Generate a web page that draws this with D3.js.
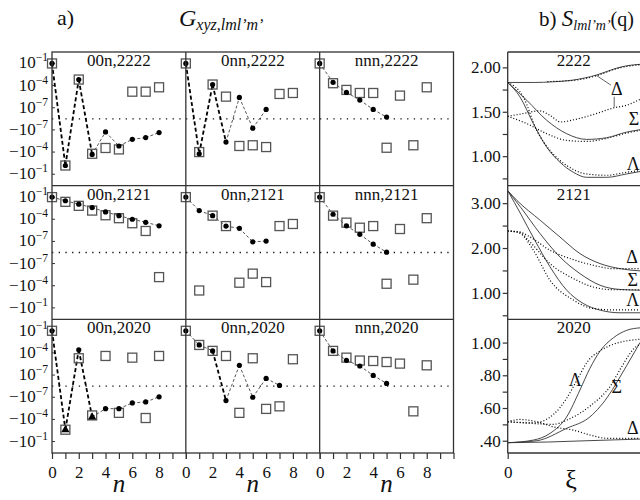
<!DOCTYPE html>
<html>
<head>
<meta charset="utf-8">
<script src="https://cdn.jsdelivr.net/npm/d3@7"></script>
<style>
  body { margin: 0; background: #fff; }
</style>
</head>
<body>
<script>
// n = 0..8 for every panel of a)
const nValues = [0, 1, 2, 3, 4, 5, 6, 7, 8];
const colLabels = ["00n", "0nn", "nnn"];
const rowLabels = ["2222", "2121", "2020"];

// filled dots (joined by dashed line), one array per column
const dots2222 = [
  [1e-1, -6.6e-3, 6.6e-4, -2.1e-4, -1.9e-7, -1.5e-5, -1.9e-6, -1.1e-6, -2.3e-7],
  [1e-1, -1.7e-4, 1.4e-4, -4.4e-6, 2.5e-6, -5.9e-8, 5.9e-8, null, null],
  [1e-1, 2.8e-4, 1.2e-5, 1.1e-6, 5.9e-8, 5.4e-9, null, null, null]
];
const squares2222 = [
  [1e-1, -6.6e-3, 6.6e-4, -1.7e-4, -2.8e-5, -4.4e-5, 1.5e-5, 1.5e-5, 5.9e-5],
  [1e-1, -1e-4, 1.4e-4, 3.2e-6, -1.5e-5, -1.2e-5, -2.1e-5, 7.4e-6, 1e-5],
  [1e-1, 2.1e-4, 2.6e-5, 1e-5, 1e-5, -2.6e-5, 4.4e-6, -1.2e-5, 5.9e-5]
];
const dots2121 = [
  [1e-1, 3.2e-2, 1.1e-2, 3.8e-3, 1e-3, 3.1e-4, 1e-4, 3.9e-5, 1.3e-5],
  [1e-1, 1.5e-3, 3.1e-4, 1.2e-5, 5.9e-6, 8.9e-8, 1.1e-7, null, null],
  [1e-1, 4.8e-4, 1.3e-5, 9.1e-7, 4.3e-8, 3.5e-9, null, null, null]
];
const squares2121 = [
  [1e-1, 2.3e-2, 6.6e-3, 1.5e-3, 3.5e-4, 1.4e-4, 2.9e-5, 2.6e-6, -6.8e-6],
  [1e-1, -4.4e-4, 3.1e-4, 1.2e-5, -3.9e-5, -2.3e-6, -3.2e-5, 1.2e-5, 2.3e-5],
  [1e-1, 3.1e-4, 3.5e-5, 7.2e-6, 1.2e-5, -5.4e-5, 4.8e-6, -1.5e-5, 1.4e-4]
];
const dots2020 = [
  [1e-1, -2.5e-3, 2.6e-4, -4.8e-5, -3.5e-6, -3.5e-6, -5.9e-7, -4.3e-7, -8.9e-8],
  [1e-1, 1.2e-3, 1.9e-4, -2.8e-7, 2.1e-6, -1e-7, 3.5e-8, 4e-9, null],
  [1e-1, 1.9e-4, 1e-5, 1.7e-6, 9.1e-8, 7.4e-9, null, null, null]
];
const squares2020 = [
  [1e-1, -2.5e-3, 1.9e-5, -2.9e-5, 3.9e-5, -1.3e-5, 2.3e-5, -6.5e-5, 3.9e-5],
  [1e-1, 1.2e-3, 1.9e-4, 3.9e-5, -1.3e-5, 1.9e-5, -3.8e-6, -1.7e-6, 1.4e-5],
  [1e-1, 1.9e-4, 2.3e-5, 9.3e-6, 8.1e-6, 5.9e-6, 3.6e-6, -8.1e-6, 2.1e-6]
];
// triangles drawn instead of dots (00n,2020 only)
const triangles2020 = [null, -2.5e-3, null, -4.8e-5, null, null, null, null, null];

// which segments (start index) are drawn with the heavy dash
const heavySegs = [
  [[0, 1, 2], [0, 1, 2], []],
  [[], [], []],
  [[0, 1, 2], [2], []]
];

const yTickVals = [1e-1, 1e-4, 1e-7, -1e-7, -1e-4, -1e-1];
const xTickVals = [0, 1, 2, 3, 4, 5, 6, 7, 8, 9, 10];

// b) S curves, [xi, value]
const s2222 = {
  solid: [
    [[0, 1.83], [0.2, 1.83], [0.34, 1.837], [0.49, 1.856], [0.67, 1.913], [0.82, 1.989], [0.9, 2.018], [1.0, 2.034]],
    [[0, 1.83], [0.144, 1.63], [0.295, 1.404], [0.446, 1.253], [0.597, 1.189], [0.748, 1.208], [0.899, 1.271], [1.0, 1.298]],
    [[0, 1.83], [0.093, 1.667], [0.194, 1.367], [0.295, 1.102], [0.395, 0.932], [0.496, 0.819], [0.597, 0.762], [0.748, 0.762], [0.899, 0.8], [1.0, 0.827]]
  ],
  dotted: [
    [[0.3, 1.84], [0.49, 1.852], [0.67, 1.905], [0.82, 1.985], [1.0, 2.03]],
    [[0, 1.449], [0.1, 1.475], [0.24, 1.51], [0.32, 1.46], [0.4, 1.385], [0.5, 1.41], [0.65, 1.47], [0.8, 1.543], [0.9, 1.574], [1.0, 1.64]],
    [[0, 1.449], [0.144, 1.367], [0.295, 1.253], [0.446, 1.178], [0.597, 1.166], [0.748, 1.2], [0.899, 1.26], [1.0, 1.29]],
    [[0, 1.83], [0.118, 1.667], [0.219, 1.29], [0.32, 1.064], [0.446, 0.895], [0.597, 0.8], [0.748, 0.785], [0.899, 0.819], [1.0, 0.838]]
  ],
  labels: [["Δ", 0.824, 1.74], ["Σ", 0.955, 1.40], ["Λ", 0.95, 0.895]]
};
const s2121 = {
  solid: [
    [[0, 3.28], [0.07, 3.06], [0.245, 2.62], [0.395, 2.245], [0.546, 1.876], [0.698, 1.653], [0.849, 1.54], [1.0, 1.49]],
    [[0, 3.28], [0.1, 2.9], [0.245, 2.32], [0.395, 1.8], [0.546, 1.43], [0.698, 1.17], [0.849, 1.076], [1.0, 1.06]],
    [[0, 3.28], [0.1, 2.75], [0.2, 2.2], [0.32, 1.58], [0.446, 1.06], [0.57, 0.765], [0.698, 0.616], [0.849, 0.556], [1.0, 0.556]]
  ],
  dotted: [
    [[0, 2.38], [0.09, 2.36], [0.17, 2.245], [0.32, 1.95], [0.496, 1.74], [0.647, 1.615], [0.798, 1.54], [1.0, 1.54]],
    [[0, 2.38], [0.09, 2.35], [0.17, 2.13], [0.32, 1.65], [0.496, 1.32], [0.647, 1.13], [0.798, 1.07], [1.0, 1.07]],
    [[0, 2.38], [0.09, 2.33], [0.194, 1.95], [0.32, 1.28], [0.496, 0.84], [0.647, 0.65], [0.798, 0.62], [1.0, 0.62]]
  ],
  labels: [["Δ", 0.94, 1.76], ["Σ", 0.945, 1.24], ["Λ", 0.945, 0.8]]
};
const s2020 = {
  solid: [
    [[0, 0.388], [0.3, 0.392], [0.6, 0.4], [1.0, 0.41]],
    [[0, 0.388], [0.22, 0.4], [0.446, 0.476], [0.622, 0.546], [0.773, 0.689], [0.849, 0.79], [0.95, 0.93], [1.0, 1.0]],
    [[0, 0.388], [0.194, 0.404], [0.32, 0.445], [0.446, 0.546], [0.546, 0.71], [0.62, 0.84], [0.7, 0.95], [0.8, 1.03], [0.9, 1.075], [1.0, 1.09]]
  ],
  dotted: [
    [[0, 0.516], [0.093, 0.53], [0.219, 0.516], [0.345, 0.485], [0.496, 0.465], [0.622, 0.435], [0.748, 0.415], [1.0, 0.415]],
    [[0, 0.516], [0.2, 0.51], [0.345, 0.56], [0.446, 0.66], [0.53, 0.78], [0.6, 0.88], [0.7, 0.95], [0.8, 0.99], [1.0, 1.02]],
    [[0, 0.516], [0.2, 0.505], [0.345, 0.5], [0.446, 0.526], [0.647, 0.628], [0.773, 0.73], [0.86, 0.85], [0.95, 0.96], [1.0, 0.99]]
  ],
  labels: [["Λ", 0.51, 0.76], ["Σ", 0.825, 0.72], ["Δ", 0.945, 0.465]]
};
const sDomains = [[0.668, 2.173], [0.41, 3.39], [0.325, 1.142]];
const sTicks = [[0.75, 1.0, 1.25, 1.5, 1.75, 2.0], [0.5, 1.0, 1.5, 2.0, 2.5, 3.0], [0.4, 0.5, 0.6, 0.7, 0.8, 0.9, 1.0]];
const sLabelTicks = [[1.0, 1.5, 2.0], [1.0, 2.0, 3.0], [0.4, 0.6, 0.8, 1.0]];

const width = 640, height = 500;
const aL = 52, aR = 453.5, pTop = 52, pBottom = 453;
const colW = (aR - aL) / 3, rowH = (pBottom - pTop) / 3;
const bL = 507.7, bR = 640;
const serif = "'Liberation Serif', 'Times New Roman', 'DejaVu Serif', serif";

const svg = d3.select("body").append("svg")
  .attr("width", width).attr("height", height)
  .attr("font-family", serif).attr("fill", "#111");

// symmetric log used by a)
const tr = v => Math.sign(v) * Math.max(Math.log10(Math.abs(v)) + 8.5, 0);

const dotsRows = [dots2222, dots2121, dots2020];
const squaresRows = [squares2222, squares2121, squares2020];

const xScales = [0, 1, 2].map(c => d3.scaleLinear().domain([0, 10]).range([aL + c * colW, aL + (c + 1) * colW]));
const yScales = [0, 1, 2].map(r => d3.scaleLinear().domain([-9.05, 9.05]).range([pTop + (r + 1) * rowH, pTop + r * rowH]));

function supLabel(g, x, y, base, exp, size) {
  const t = g.append("text").attr("x", x).attr("y", y).attr("text-anchor", "end")
    .attr("font-size", size).attr("dominant-baseline", "middle");
  t.append("tspan").text(base);
  t.append("tspan").attr("dy", -6).attr("font-size", size * 0.68).text(exp);
}

// ---- a) panels
for (let r = 0; r < 3; r++) {
  const y = yScales[r];
  // zero line
  svg.append("line")
    .attr("x1", aL).attr("x2", aR).attr("y1", y(0)).attr("y2", y(0))
    .attr("stroke", "#111").attr("stroke-width", 1.3).attr("stroke-dasharray", "1.3 5.4");

  // left tick labels
  yTickVals.forEach(v => {
    const e = Math.round(Math.log10(Math.abs(v)));
    supLabel(svg, 48, y(tr(v)) + 1, v < 0 ? "−10" : "10", "−" + Math.abs(e), 17);
    svg.append("line").attr("x1", aL).attr("x2", aL + 3)
      .attr("y1", y(tr(v))).attr("y2", y(tr(v))).attr("stroke", "#333");
  });

  for (let c = 0; c < 3; c++) {
    const x = xScales[c];
    const dots = dotsRows[r][c];
    const sq = squaresRows[r][c];
    const g = svg.append("g");

    g.append("text").attr("x", (x(0) + x(10)) / 2).attr("y", pTop + r * rowH + 14)
      .attr("text-anchor", "middle").attr("font-size", 17)
      .text(colLabels[c] + "," + rowLabels[r]);

    // dashed connections
    for (let i = 0; i < dots.length - 1; i++) {
      if (dots[i] === null || dots[i + 1] === null) continue;
      const heavy = heavySegs[r][c].includes(i);
      g.append("line")
        .attr("x1", x(nValues[i])).attr("y1", y(tr(dots[i])))
        .attr("x2", x(nValues[i + 1])).attr("y2", y(tr(dots[i + 1])))
        .attr("stroke", heavy ? "#000" : "#444")
        .attr("stroke-width", heavy ? 1.8 : 0.9)
        .attr("stroke-dasharray", heavy ? "4 2.5" : "3 2");
    }

    // squares
    g.selectAll("rect").data(sq.map((v, i) => [nValues[i], v]).filter(d => d[1] !== null))
      .enter().append("rect")
      .attr("x", d => x(d[0]) - 4.5).attr("y", d => y(tr(d[1])) - 4.5)
      .attr("width", 9).attr("height", 9)
      .attr("fill", "none").attr("stroke", "#555").attr("stroke-width", 1.3);

    const tri = (r === 2 && c === 0) ? triangles2020 : nValues.map(() => null);

    g.selectAll("circle").data(dots.map((v, i) => [nValues[i], v, tri[i]]).filter(d => d[1] !== null && d[2] === null))
      .enter().append("circle")
      .attr("cx", d => x(d[0])).attr("cy", d => y(tr(d[1]))).attr("r", 2.6)
      .attr("fill", "#000");

    g.selectAll("path.tri").data(tri.map((v, i) => [nValues[i], v]).filter(d => d[1] !== null))
      .enter().append("path").attr("class", "tri")
      .attr("d", d3.symbol(d3.symbolTriangle, 30))
      .attr("transform", d => `translate(${x(d[0])},${y(tr(d[1]))})`)
      .attr("fill", "#000");
  }
}

function styleAxis(g) {
  g.attr("font-family", serif);
  g.select(".domain").remove();
  g.selectAll("line").attr("stroke", "#333").attr("stroke-width", 1.2);
  g.selectAll("text").attr("font-family", serif).attr("font-size", 17).attr("fill", "#111");
}

// x axes of a)
for (let c = 0; c < 3; c++) {
  const ax = d3.axisBottom(xScales[c]).tickValues(xTickVals).tickSize(6)
    .tickFormat(d => (d % 2 === 0 && d <= 8) ? d : "");
  const g = svg.append("g").attr("transform", `translate(0,${pBottom})`).call(ax);
  styleAxis(g);
  g.selectAll("text").attr("dy", "0.95em");
  svg.append("text").attr("x", (xScales[c](0) + xScales[c](10)) / 2).attr("y", 492)
    .attr("text-anchor", "middle").attr("font-size", 25).attr("font-style", "italic").text("n");
}

// frame of a)
const frame = svg.append("g").attr("fill", "none").attr("stroke", "#333").attr("stroke-width", 1.3);
frame.append("rect").attr("x", aL).attr("y", pTop).attr("width", aR - aL).attr("height", pBottom - pTop);
[1, 2].forEach(i => {
  frame.append("line").attr("x1", aL + i * colW).attr("x2", aL + i * colW).attr("y1", pTop).attr("y2", pBottom);
  frame.append("line").attr("x1", aL).attr("x2", aR).attr("y1", pTop + i * rowH).attr("y2", pTop + i * rowH);
});

// ---- b) panels
const xb = d3.scaleLinear().domain([0, 1]).range([bL, bR]);
const sData = [s2222, s2121, s2020];
svg.append("defs").selectAll("clipPath").data([0, 1, 2]).enter().append("clipPath")
  .attr("id", d => "clip" + d)
  .append("rect").attr("x", bL).attr("y", d => pTop + d * rowH).attr("width", bR - bL).attr("height", rowH);

for (let r = 0; r < 3; r++) {
  const yb = d3.scaleLinear().domain(sDomains[r]).range([pTop + (r + 1) * rowH, pTop + r * rowH]);
  const line = d3.line().x(d => xb(d[0])).y(d => yb(d[1])).curve(d3.curveMonotoneX);
  const g = svg.append("g").attr("clip-path", `url(#clip${r})`);
  sData[r].solid.forEach(c => g.append("path").attr("d", line(c))
    .attr("fill", "none").attr("stroke", "#333").attr("stroke-width", 0.9));
  sData[r].dotted.forEach(c => g.append("path").attr("d", line(c))
    .attr("fill", "none").attr("stroke", "#000").attr("stroke-width", 1.2).attr("stroke-dasharray", "1 2"));

  sData[r].labels.forEach(l => svg.append("text").attr("x", xb(l[1])).attr("y", yb(l[2]))
    .attr("text-anchor", "middle").attr("dominant-baseline", "middle").attr("font-size", 18).text(l[0]));

  const fmt = r === 2 ? (d => d === 1 ? "1.00" : d3.format(".2f")(d).replace(/^0/, "")) : d3.format(".2f");
  const ax = d3.axisLeft(yb).tickValues(sTicks[r]).tickSize(5)
    .tickFormat(d => sLabelTicks[r].some(v => Math.abs(v - d) < 1e-9) ? fmt(d) : "");
  const ga = svg.append("g").attr("transform", `translate(${bL},0)`).call(ax);
  styleAxis(ga);
  ga.selectAll("text").attr("x", -7);

  svg.append("text").attr("x", xb(0.5)).attr("y", pTop + r * rowH + 14)
    .attr("text-anchor", "middle").attr("font-size", 17).text(rowLabels[r]);
}

// Δ pointer lines in 2222
{
  const yb = d3.scaleLinear().domain(sDomains[0]).range([pTop + rowH, pTop]);
  const pl = svg.append("g").attr("stroke", "#555").attr("stroke-width", 0.9);
  pl.append("line").attr("x1", xb(0.67)).attr("y1", yb(1.91)).attr("x2", xb(0.78)).attr("y2", yb(1.80));
  pl.append("line").attr("x1", xb(0.805)).attr("y1", yb(1.67)).attr("x2", xb(0.805)).attr("y2", yb(1.55));
}

const bf = svg.append("g").attr("fill", "none").attr("stroke", "#333").attr("stroke-width", 1.3);
bf.append("line").attr("x1", bL).attr("x2", bL).attr("y1", pTop).attr("y2", pBottom);
[0, 1, 2, 3].forEach(i => bf.append("line").attr("x1", bL).attr("x2", bR).attr("y1", pTop + i * rowH).attr("y2", pTop + i * rowH));

const axb = d3.axisBottom(xb).tickValues([0]).tickSize(6).tickFormat(d3.format("d"));
const gxb = svg.append("g").attr("transform", `translate(0,${pBottom})`).call(axb);
styleAxis(gxb);
gxb.selectAll("text").attr("dy", "0.95em");
svg.append("text").attr("x", 571).attr("y", 488).attr("text-anchor", "middle").attr("font-size", 26).text("ξ");

// headings
svg.append("text").attr("x", 57).attr("y", 25).attr("font-size", 22).text("a)");
const hg = svg.append("text").attr("x", 179).attr("y", 26);
hg.append("tspan").attr("font-size", 24).attr("font-style", "italic").text("G");
hg.append("tspan").attr("font-size", 16).attr("font-style", "italic").attr("dy", 4).text("xyz,lml’m’");
const hb = svg.append("text").attr("x", 539).attr("y", 26);
hb.append("tspan").attr("font-size", 21).text("b) ");
hb.append("tspan").attr("font-size", 23).attr("font-style", "italic").text("S");
hb.append("tspan").attr("font-size", 14).attr("font-style", "italic").attr("dy", 4).text("lml’m’");
hb.append("tspan").attr("font-size", 20).attr("dy", -4).text("(q)");
</script>
</body>
</html>
